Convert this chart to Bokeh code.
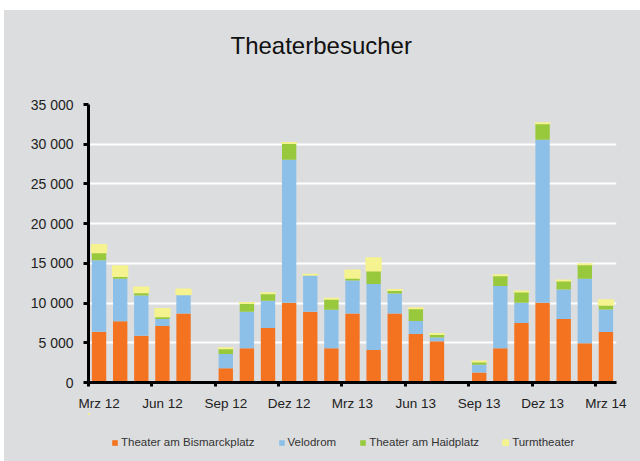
from bokeh.plotting import figure
from bokeh.models import ColumnDataSource, Range1d, FixedTicker, Legend, LegendItem
from bokeh.layouts import column
from bokeh.embed import file_html
from bokeh.resources import INLINE

months = ["Mrz 12", "Apr 12", "Mai 12", "Jun 12", "Jul 12", "Aug 12", "Sep 12", "Okt 12",
          "Nov 12", "Dez 12", "Jan 13", "Feb 13", "Mrz 13", "Apr 13", "Mai 13", "Jun 13",
          "Jul 13", "Aug 13", "Sep 13", "Okt 13", "Nov 13", "Dez 13", "Jan 14", "Feb 14", "Mrz 14"]
bismarck = [6400, 7700, 5900, 7100, 8700, 0, 1800, 4300, 6850, 10050, 8900, 4300, 8700,
            4100, 8700, 6100, 5200, 0, 1250, 4300, 7500, 10050, 8000, 4950, 6350]
velodrom = [9000, 5350, 5050, 900, 2400, 0, 1800, 4600, 3450, 18000, 4650, 4850, 4150,
            8300, 2500, 1650, 450, 0, 1000, 7850, 2550, 20500, 3700, 8100, 2850]
haidplatz = [1000, 350, 400, 350, 0, 0, 700, 1100, 950, 2100, 0, 1400, 350,
             1700, 450, 1600, 450, 0, 400, 1350, 1400, 2100, 1150, 1850, 600]
turm = [900, 1250, 600, 900, 600, 0, 0, 0, 0, 0, 0, 0, 900,
        1550, 0, 0, 0, 0, 0, 0, 0, 0, 0, 0, 550]
series_names = ["Theater am Bismarckplatz", "Velodrom", "Theater am Haidplatz", "Turmtheater"]
y_ticks = [0, 5000, 10000, 15000, 20000, 25000, 30000, 35000]
y_labels = ["0", "5 000", "10 000", "15 000", "20 000", "25 000", "30 000", "35 000"]
title_text = "Theaterbesucher"

colors = ["#F37321", "#8CC0E8", "#98C83C", "#F5F290"]
BG = "#DCDDDF"
FONT = "Liberation Sans"
W = 636

xs = [i + 0.5 for i in range(len(months))]
source = ColumnDataSource(dict(x=xs, bismarck=bismarck, velodrom=velodrom,
                               haidplatz=haidplatz, turm=turm))
stack = ["bismarck", "velodrom", "haidplatz", "turm"]
line_colors = [None, None, None, colors[3]]
line_widths = [0, 0, 0, 2]


def strip(height):
    f = figure(width=W, height=height, output_backend="svg", toolbar_location=None,
               x_range=Range1d(1000, 1001), y_range=Range1d(-2, -1),
               x_axis_type=None, y_axis_type=None,
               min_border_left=84, min_border_right=24, min_border_top=0, min_border_bottom=0)
    f.background_fill_color = BG
    f.border_fill_color = BG
    f.outline_line_color = None
    f.grid.visible = False
    return f


# title strip
tf = strip(70)
tf.title.text = title_text
tf.title.align = "left"
tf.title.offset = 142
tf.title.standoff = 38
tf.title.text_font = FONT
tf.title.text_font_size = "24px"
tf.title.text_font_style = "normal"
tf.title.text_color = "#111111"

# main chart
p = figure(width=W, height=333, output_backend="svg", toolbar_location=None,
           x_range=Range1d(0, len(months)), y_range=Range1d(0, 35000),
           min_border_left=84, min_border_right=24, min_border_top=24, min_border_bottom=30)
p.background_fill_color = BG
p.border_fill_color = BG
p.outline_line_color = None

renderers = p.vbar_stack(stack, x="x", width=0.68, source=source, color=colors,
                         line_color=line_colors, line_width=line_widths)
renderers[3].glyph.line_join = "round"

p.xgrid.grid_line_color = None
p.ygrid.grid_line_color = "white"
p.ygrid.grid_line_width = 2
p.ygrid.ticker = FixedTicker(ticks=y_ticks)

xa = p.xaxis[0]
xa.ticker = FixedTicker(ticks=[xs[i] for i in range(0, len(months), 3)],
                        minor_ticks=list(range(0, len(months) + 1, 3)))
xa.major_label_overrides = {xs[i]: months[i] for i in range(0, len(months), 3)}
xa.major_tick_line_color = None
xa.major_tick_in = 0
xa.major_tick_out = 0
xa.minor_tick_in = 0
xa.minor_tick_out = 4
xa.minor_tick_line_width = 3
xa.minor_tick_line_color = "black"
xa.axis_line_width = 3
xa.axis_line_color = "black"
xa.major_label_standoff = 9
xa.major_label_text_font = FONT
xa.major_label_text_font_size = "13.5px"
xa.major_label_text_color = "#222222"

ya = p.yaxis[0]
ya.ticker = FixedTicker(ticks=y_ticks)
ya.major_label_overrides = {t: l for t, l in zip(y_ticks, y_labels)}
ya.major_tick_in = 0
ya.major_tick_out = 5
ya.major_tick_line_width = 3
ya.minor_tick_line_color = None
ya.axis_line_width = 3
ya.axis_line_color = "black"
ya.major_label_standoff = 10
ya.major_label_text_font = FONT
ya.major_label_text_font_size = "14px"
ya.major_label_text_color = "#222222"

# legend strip (its key glyphs come from the same series, kept out of view)
lf = strip(48)
lrs = lf.vbar_stack(stack, x="x", width=0.68, source=source, color=colors,
                    line_color=line_colors, line_width=line_widths)
lrs[3].glyph.line_join = "round"

legend = Legend(items=[LegendItem(label=n, renderers=[r]) for n, r in zip(series_names, lrs)],
                orientation="horizontal", location=(23, 13))
legend.border_line_color = None
legend.background_fill_alpha = 0
legend.label_text_font = FONT
legend.label_text_font_size = "11.5px"
legend.label_text_color = "#333333"
legend.glyph_width = 7
legend.glyph_height = 7
legend.label_standoff = 3
legend.spacing = 23
legend.margin = 0
legend.padding = 4
lf.add_layout(legend, "center")

layout = column(tf, p, lf, spacing=0,
                styles={"background-color": BG, "margin-left": "4px", "margin-top": "10px"})
open("out.html", "w").write(file_html(layout, INLINE))
